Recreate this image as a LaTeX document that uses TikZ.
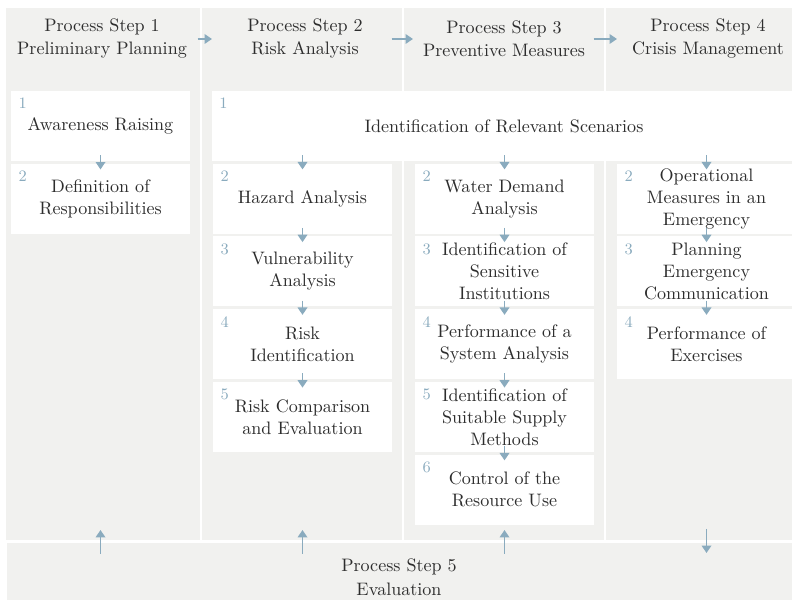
\documentclass[tikz,border=0pt]{standalone}
\usepackage{tikz}
\usetikzlibrary{positioning,arrows.meta,calc}
\definecolor{panelgray}{RGB}{241,241,239}
\definecolor{flowblue}{RGB}{138,171,190}
\definecolor{inkgray}{RGB}{45,45,45}

\begin{document}
\begin{tikzpicture}[x=0.565pt, y=-0.565pt, font=\fontsize{10.2}{12.5}\selectfont, text=inkgray, node distance={41.1pt},
  panel/.style = {fill=panelgray, anchor=north west, inner sep=0pt, minimum height=300.6pt},
  head/.style = {align=center, font=\fontsize{10.2}{13}\selectfont},
  task/.style = {fill=white, align=center, inner sep=1pt, minimum width=101pt, minimum height=39.5pt},
  num/.style = {anchor=north west, text=flowblue, font=\small, inner sep=0pt, xshift=4.2pt, yshift=-4pt},
  flow/.style = {-{Triangle[width=5.4pt, length=4.2pt]}, draw=flowblue, line width=0.9pt}]
  \useasboundingbox (0,0) rectangle (792,600);
  % columns
  \node[panel, minimum width=109.6pt] (col1) at (6,8) {};
  \node[panel, minimum width=113pt] (col2) at (202,8) {};
  \node[panel, minimum width=113pt] (col3) at (404,8) {};
  \node[panel, minimum width=115pt] (col4) at (606,8) {};
  \node[panel, minimum width=453.7pt, minimum height=37.9pt] (evalbar) at (7,543) {};
  % headers
  \node[head] (h1) at (102,38.5) {Process Step 1\\Preliminary Planning};
  \node[head] (h2) at (305,38.5) {Process Step 2\\Risk Analysis};
  \node[head] (h3) at (504,38.5) {Process Step 3\\Preventive Measures};
  \node[head] (h4) at (708,38.5) {Process Step 4\\Crisis Management};
  \node[head, font=\fontsize{10.2}{13.5}\selectfont] (h5) at (399,577) {Process Step 5\\Evaluation};
  % tasks
  \node[task] (a1) at (100.5,126) {Awareness Raising};
  \node[task] (a2) [below of=a1] {Definition of\\Responsibilities};
  \node[task, minimum width=330pt] (s1) at (504,126) {Identification of Relevant Scenarios};
  \node[task] (b2) at (302.5,198.7) {Hazard Analysis};
  \node[task] (b3) [below of=b2] {Vulnerability\\Analysis};
  \node[task] (b4) [below of=b3] {Risk\\Identification};
  \node[task] (b5) [below of=b4] {Risk Comparison\\and Evaluation};
  \node[task] (c2) at (504.5,198.7) {Water Demand\\Analysis};
  \node[task] (c3) [below of=c2] {Identification of\\Sensitive\\Institutions};
  \node[task] (c4) [below of=c3] {Performance of a\\System Analysis};
  \node[task] (c5) [below of=c4] {Identification of\\Suitable Supply\\Methods};
  \node[task] (c6) [below of=c5] {Control of the\\Resource Use};
  \node[task] (d2) at (706.5,198.7) {Operational\\Measures in an\\Emergency};
  \node[task] (d3) [below of=d2] {Planning\\Emergency\\Communication};
  \node[task] (d4) [below of=d3] {Performance of\\Exercises};
  % numbers
  \node[num] (a1n) at (a1.north west) {1};
  \node[num] (a2n) at (a2.north west) {2};
  \node[num] (s1n) at (s1.north west) {1};
  \node[num] (b2n) at (b2.north west) {2};
  \node[num] (b3n) at (b3.north west) {3};
  \node[num] (b4n) at (b4.north west) {4};
  \node[num] (b5n) at (b5.north west) {5};
  \node[num] (c2n) at (c2.north west) {2};
  \node[num] (c3n) at (c3.north west) {3};
  \node[num] (c4n) at (c4.north west) {4};
  \node[num] (c5n) at (c5.north west) {5};
  \node[num] (c6n) at (c6.north west) {6};
  \node[num] (d2n) at (d2.north west) {2};
  \node[num] (d3n) at (d3.north west) {3};
  \node[num] (d4n) at (d4.north west) {4};
  % header flow
  \draw[flow] ($(col1.north east)+(-3,31)$) -- ($(col2.north west)+(10,31)$);
  \draw[flow] ($(col2.north east)+(-11,31)$) -- ($(col3.north west)+(9,31)$);
  \draw[flow] ($(col3.north east)+(-11,31)$) -- ($(col4.north west)+(11,31)$);
  % task flow
  \draw[flow] ([yshift=3.4pt]a1.south) -- ([yshift=-3.4pt]a2.north);
  \draw[flow] ($(s1.south -| b2.north)+(0,-6)$) -- ([yshift=-3.4pt]b2.north);
  \draw[flow] ($(s1.south -| c2.north)+(0,-6)$) -- ([yshift=-3.4pt]c2.north);
  \draw[flow] ($(s1.south -| d2.north)+(0,-6)$) -- ([yshift=-3.4pt]d2.north);
  \draw[flow] ([yshift=3.4pt]b2.south) -- ([yshift=-3.4pt]b3.north);
  \draw[flow] ([yshift=3.4pt]b3.south) -- ([yshift=-3.4pt]b4.north);
  \draw[flow] ([yshift=3.4pt]b4.south) -- ([yshift=-3.4pt]b5.north);
  \draw[flow] ([yshift=3.4pt]c2.south) -- ([yshift=-3.4pt]c3.north);
  \draw[flow] ([yshift=3.4pt]c3.south) -- ([yshift=-3.4pt]c4.north);
  \draw[flow] ([yshift=3.4pt]c4.south) -- ([yshift=-3.4pt]c5.north);
  \draw[flow] ([yshift=3.4pt]c5.south) -- ([yshift=-3.4pt]c6.north);
  \draw[flow] ([yshift=3.4pt]d2.south) -- ([yshift=-3.4pt]d3.north);
  \draw[flow] ([yshift=3.4pt]d3.south) -- ([yshift=-3.4pt]d4.north);
  % evaluation flow
  \draw[flow] ($(evalbar.north -| a2.south)+(0,11)$) -- ($(evalbar.north -| a2.south)+(0,-13)$);
  \draw[flow] ($(evalbar.north -| b5.south)+(0,11)$) -- ($(evalbar.north -| b5.south)+(0,-13)$);
  \draw[flow] ($(evalbar.north -| c6.south)+(0,11)$) -- ($(evalbar.north -| c6.south)+(0,-13)$);
  \draw[flow] ($(evalbar.north -| d4.south)+(0,-14)$) -- ($(evalbar.north -| d4.south)+(0,10)$);
\end{tikzpicture}
\end{document}
